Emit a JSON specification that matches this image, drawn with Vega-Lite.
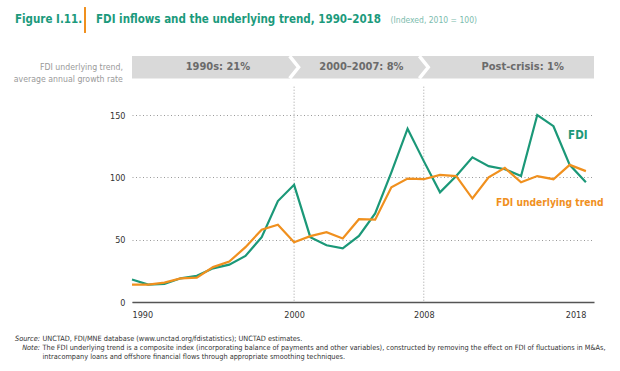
{
  "$schema": "https://vega.github.io/schema/vega-lite/v6.json",
  "width": 462,
  "height": 187,
  "autosize": {"type": "none"},
  "padding": {"left": 132, "top": 115, "right": 26, "bottom": 69},
  "background": "white",
  "config": {"view": {"stroke": null}, "font": "DejaVu Sans Condensed", "text": {"font": "DejaVu Sans Condensed"}},
  "datasets": {
    "fdi": [
      {"year": 1990, "series": "FDI", "value": 18},
      {"year": 1991, "series": "FDI", "value": 14},
      {"year": 1992, "series": "FDI", "value": 14.5},
      {"year": 1993, "series": "FDI", "value": 19},
      {"year": 1994, "series": "FDI", "value": 21},
      {"year": 1995, "series": "FDI", "value": 27},
      {"year": 1996, "series": "FDI", "value": 30},
      {"year": 1997, "series": "FDI", "value": 37},
      {"year": 1998, "series": "FDI", "value": 52},
      {"year": 1999, "series": "FDI", "value": 81},
      {"year": 2000, "series": "FDI", "value": 94},
      {"year": 2001, "series": "FDI", "value": 52},
      {"year": 2002, "series": "FDI", "value": 45.5},
      {"year": 2003, "series": "FDI", "value": 43},
      {"year": 2004, "series": "FDI", "value": 53},
      {"year": 2005, "series": "FDI", "value": 71},
      {"year": 2006, "series": "FDI", "value": 104},
      {"year": 2007, "series": "FDI", "value": 139},
      {"year": 2008, "series": "FDI", "value": 113},
      {"year": 2009, "series": "FDI", "value": 88},
      {"year": 2010, "series": "FDI", "value": 101},
      {"year": 2011, "series": "FDI", "value": 116},
      {"year": 2012, "series": "FDI", "value": 109},
      {"year": 2013, "series": "FDI", "value": 106.5},
      {"year": 2014, "series": "FDI", "value": 101},
      {"year": 2015, "series": "FDI", "value": 150},
      {"year": 2016, "series": "FDI", "value": 141},
      {"year": 2017, "series": "FDI", "value": 110},
      {"year": 2018, "series": "FDI", "value": 96},
      {"year": 1990, "series": "FDI underlying trend", "value": 14},
      {"year": 1991, "series": "FDI underlying trend", "value": 14},
      {"year": 1992, "series": "FDI underlying trend", "value": 15.6},
      {"year": 1993, "series": "FDI underlying trend", "value": 19},
      {"year": 1994, "series": "FDI underlying trend", "value": 19.6},
      {"year": 1995, "series": "FDI underlying trend", "value": 28},
      {"year": 1996, "series": "FDI underlying trend", "value": 32.4},
      {"year": 1997, "series": "FDI underlying trend", "value": 44},
      {"year": 1998, "series": "FDI underlying trend", "value": 58},
      {"year": 1999, "series": "FDI underlying trend", "value": 62},
      {"year": 2000, "series": "FDI underlying trend", "value": 48},
      {"year": 2001, "series": "FDI underlying trend", "value": 52.8},
      {"year": 2002, "series": "FDI underlying trend", "value": 56},
      {"year": 2003, "series": "FDI underlying trend", "value": 51},
      {"year": 2004, "series": "FDI underlying trend", "value": 66.4},
      {"year": 2005, "series": "FDI underlying trend", "value": 66},
      {"year": 2006, "series": "FDI underlying trend", "value": 92},
      {"year": 2007, "series": "FDI underlying trend", "value": 99},
      {"year": 2008, "series": "FDI underlying trend", "value": 98.5},
      {"year": 2009, "series": "FDI underlying trend", "value": 102},
      {"year": 2010, "series": "FDI underlying trend", "value": 101},
      {"year": 2011, "series": "FDI underlying trend", "value": 83},
      {"year": 2012, "series": "FDI underlying trend", "value": 100},
      {"year": 2013, "series": "FDI underlying trend", "value": 107.6},
      {"year": 2014, "series": "FDI underlying trend", "value": 96},
      {"year": 2015, "series": "FDI underlying trend", "value": 101},
      {"year": 2016, "series": "FDI underlying trend", "value": 98.5},
      {"year": 2017, "series": "FDI underlying trend", "value": 110},
      {"year": 2018, "series": "FDI underlying trend", "value": 105}
    ],
    "breaks": [{"year": 2000}, {"year": 2008}],
    "one": [{}]
  },
  "layer": [
    {
      "data": {"name": "one"},
      "mark": {"type": "rect", "color": "#d9d9d9"},
      "encoding": {
        "x": {"datum": 1990, "type": "quantitative", "scale": {"domain": [1990, 2018.5], "nice": false, "zero": false}, "title": null},
        "x2": {"value": "width"},
        "y": {"datum": 197.3, "type": "quantitative", "scale": {"domain": [0, 150], "nice": false}, "title": null},
        "y2": {"datum": 179.3}
      }
    },
    {
      "data": {"name": "breaks"},
      "mark": {"type": "point", "shape": "M-0.4,-1L0.4,0L-0.4,1", "filled": false, "stroke": "white", "strokeWidth": 3.5, "opacity": 1, "size": 497},
      "encoding": {
        "x": {"field": "year", "type": "quantitative", "scale": {"domain": [1990, 2018.5], "nice": false, "zero": false}, "title": null},
        "y": {"datum": 188.3, "type": "quantitative", "scale": {"domain": [0, 150], "nice": false}, "title": null}
      }
    },
    {
      "data": {"name": "breaks"},
      "mark": {"type": "rule", "color": "#a0a0a0", "strokeWidth": 1, "strokeDash": [1, 2]},
      "encoding": {
        "x": {"field": "year", "type": "quantitative", "scale": {"domain": [1990, 2018.5], "nice": false, "zero": false}, "title": null},
        "y": {"datum": 172.7, "type": "quantitative", "scale": {"domain": [0, 150], "nice": false}, "title": null},
        "y2": {"datum": 0}
      }
    },
    {
      "data": {"name": "fdi"},
      "mark": {"type": "line", "strokeWidth": 2.2},
      "encoding": {
        "x": {"field": "year", "type": "quantitative", "scale": {"domain": [1990, 2018.5], "nice": false, "zero": false},
          "axis": {"values": [1990, 2000, 2008, 2018], "format": "d", "title": null, "grid": false, "ticks": false, "labelFlush": 10, "labelPadding": 8, "labelFontSize": 9, "labelColor": "#333", "domainColor": "#555", "domainWidth": 1.5, "labelFont": "DejaVu Sans Condensed"}},
        "y": {"field": "value", "type": "quantitative", "scale": {"domain": [0, 150], "nice": false},
          "axis": {"values": [0, 50, 100, 150], "title": null, "domain": false, "ticks": false, "grid": true, "gridDash": [1, 2.5], "gridColor": "#9a9a9a", "labelPadding": 7, "labelFontSize": 9, "labelColor": "#333", "labelFont": "DejaVu Sans Condensed"}},
        "color": {"field": "series", "type": "nominal", "scale": {"domain": ["FDI", "FDI underlying trend"], "range": ["#1b9878", "#f0901e"]}, "legend": null}
      }
    },
    {
      "data": {"name": "one"},
      "mark": {"type": "text", "text": "FDI", "align": "left", "baseline": "middle", "fontSize": 11.5, "fontWeight": "bold", "color": "#1b9878"},
      "encoding": {"x": {"datum": 2016.9, "type": "quantitative"}, "y": {"datum": 133.2, "type": "quantitative"}}
    },
    {
      "data": {"name": "one"},
      "mark": {"type": "text", "text": "FDI underlying trend", "align": "left", "baseline": "middle", "fontSize": 10.2, "fontWeight": "bold", "color": "#f0901e"},
      "encoding": {"x": {"datum": 2012.45, "type": "quantitative"}, "y": {"datum": 79.7, "type": "quantitative"}}
    },
    {
      "data": {"name": "one"},
      "mark": {"type": "text", "text": "1990s: 21%", "align": "center", "baseline": "middle", "fontSize": 11, "fontWeight": "bold", "color": "#6b6b6b"},
      "encoding": {"x": {"datum": 1995.3, "type": "quantitative"}, "y": {"datum": 188.5, "type": "quantitative"}}
    },
    {
      "data": {"name": "one"},
      "mark": {"type": "text", "text": "2000–2007: 8%", "align": "center", "baseline": "middle", "fontSize": 11, "fontWeight": "bold", "color": "#6b6b6b"},
      "encoding": {"x": {"datum": 2004.15, "type": "quantitative"}, "y": {"datum": 188.5, "type": "quantitative"}}
    },
    {
      "data": {"name": "one"},
      "mark": {"type": "text", "text": "Post-crisis: 1%", "align": "center", "baseline": "middle", "fontSize": 11, "fontWeight": "bold", "color": "#6b6b6b"},
      "encoding": {"x": {"datum": 2014.1, "type": "quantitative"}, "y": {"datum": 188.5, "type": "quantitative"}}
    },
    {
      "data": {"name": "one"},
      "mark": {"type": "text", "text": ["FDI underlying trend,", "average annual growth rate"], "align": "right", "baseline": "middle", "fontSize": 8.7, "lineHeight": 12, "color": "#9a9a9a"},
      "encoding": {"x": {"datum": 1989.44, "type": "quantitative"}, "y": {"datum": 188.5, "type": "quantitative"}}
    },
    {
      "data": {"name": "one"},
      "mark": {"type": "text", "text": "Figure I.11.", "align": "left", "baseline": "middle", "fontSize": 11.5, "fontWeight": "bold", "color": "#1b9a7c"},
      "encoding": {"x": {"datum": 1982.78, "type": "quantitative"}, "y": {"datum": 226.2, "type": "quantitative"}}
    },
    {
      "data": {"name": "one"},
      "mark": {"type": "rule", "color": "#f0901e", "strokeWidth": 2},
      "encoding": {"x": {"datum": 1987.1, "type": "quantitative"}, "y": {"datum": 236.6, "type": "quantitative"}, "y2": {"datum": 215.8}}
    },
    {
      "data": {"name": "one"},
      "mark": {"type": "text", "text": "FDI inflows and the underlying trend, 1990–2018", "align": "left", "baseline": "middle", "fontSize": 11.5, "fontWeight": "bold", "color": "#1b9a7c"},
      "encoding": {"x": {"datum": 1987.78, "type": "quantitative"}, "y": {"datum": 226.2, "type": "quantitative"}}
    },
    {
      "data": {"name": "one"},
      "mark": {"type": "text", "text": "(Indexed, 2010 = 100)", "align": "left", "baseline": "middle", "fontSize": 8.5, "color": "#7cbcae"},
      "encoding": {"x": {"datum": 2005.95, "type": "quantitative"}, "y": {"datum": 226.2, "type": "quantitative"}}
    },
    {
      "data": {"name": "one"},
      "mark": {"type": "text", "text": "Source:", "align": "right", "baseline": "middle", "fontSize": 7.3, "fontStyle": "italic", "color": "#333"},
      "encoding": {"x": {"datum": 1984.32, "type": "quantitative"}, "y": {"datum": -29.9, "type": "quantitative"}}
    },
    {
      "data": {"name": "one"},
      "mark": {"type": "text", "text": "Note:", "align": "right", "baseline": "middle", "fontSize": 7.3, "fontStyle": "italic", "color": "#333"},
      "encoding": {"x": {"datum": 1984.32, "type": "quantitative"}, "y": {"datum": -36.9, "type": "quantitative"}}
    },
    {
      "data": {"name": "one"},
      "mark": {"type": "text", "text": "UNCTAD, FDI/MNE database (www.unctad.org/fdistatistics); UNCTAD estimates.", "align": "left", "baseline": "middle", "fontSize": 7.3, "color": "#333"},
      "encoding": {"x": {"datum": 1984.48, "type": "quantitative"}, "y": {"datum": -29.9, "type": "quantitative"}}
    },
    {
      "data": {"name": "one"},
      "mark": {"type": "text", "text": ["The FDI underlying trend is a composite index (incorporating balance of payments and other variables), constructed by removing the effect on FDI of fluctuations in M&As,", "intracompany loans and offshore financial flows through appropriate smoothing techniques."], "align": "left", "baseline": "top", "fontSize": 7.3, "lineHeight": 8.7, "color": "#333"},
      "encoding": {"x": {"datum": 1984.48, "type": "quantitative"}, "y": {"datum": -33.6, "type": "quantitative"}}
    }
  ]
}
